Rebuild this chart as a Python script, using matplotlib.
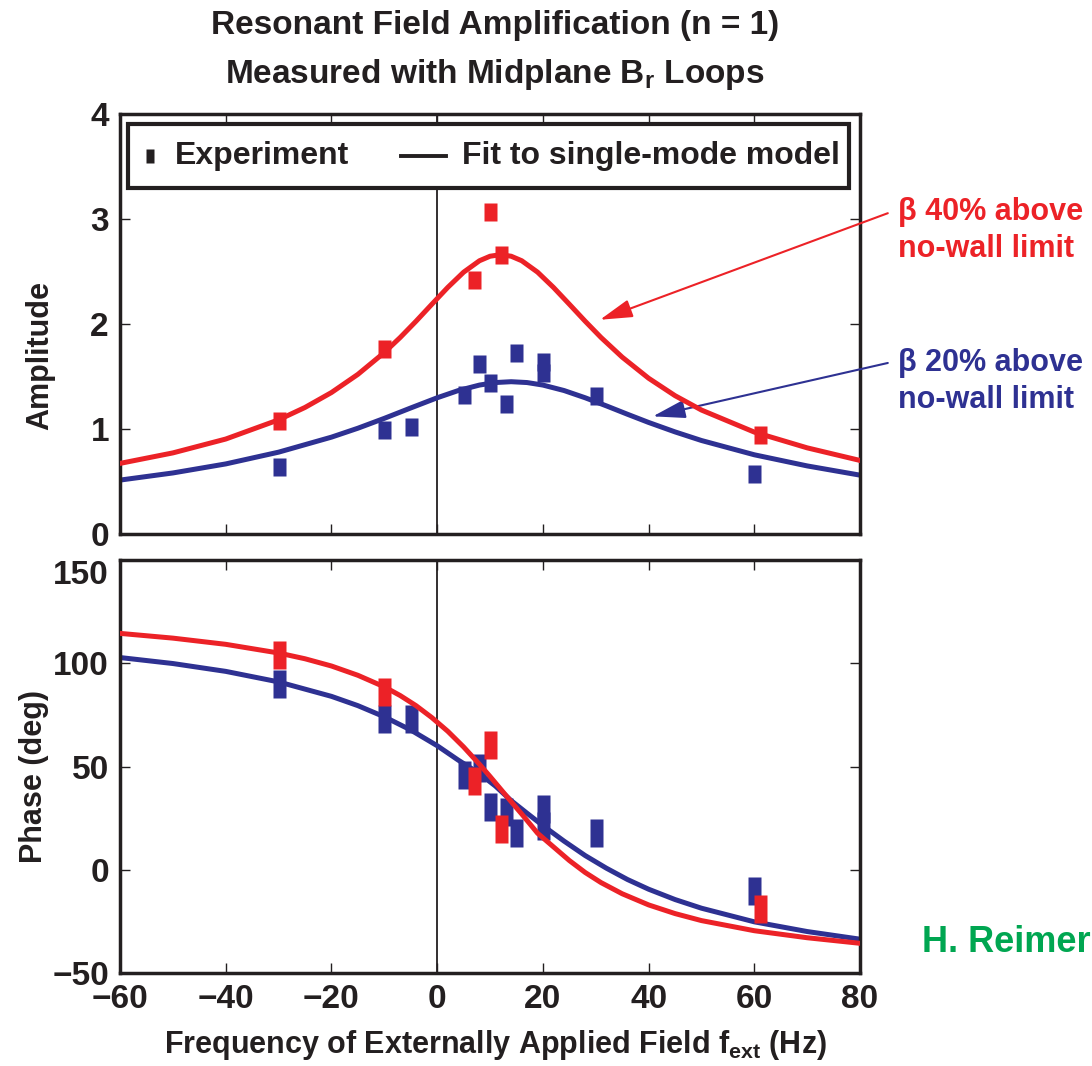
import matplotlib
matplotlib.use('Agg')
import matplotlib.pyplot as plt
from matplotlib.patches import Rectangle

plt.rcParams['font.family'] = ['Liberation Sans', 'DejaVu Sans']
plt.rcParams['font.weight'] = 'bold'
plt.rcParams['axes.labelweight'] = 'bold'
plt.rcParams['mathtext.fontset'] = 'custom'
plt.rcParams['mathtext.rm'] = 'Liberation Sans:bold'
plt.rcParams['mathtext.bf'] = 'Liberation Sans:bold'
plt.rcParams['mathtext.it'] = 'Liberation Sans:bold'

RED = '#EC2227'
BLUE = '#2E3192'
GREEN = '#00A651'
INK = '#231F20'

# measured points (Hz, amplitude / degrees)
amp_red_f = [-30, -10, 7, 10, 12, 61]
amp_red = [1.08, 1.76, 2.42, 3.07, 2.66, 0.94]
amp_blue_f = [-30, -10, -5, 5, 8, 10, 13, 15, 20, 20, 30, 60]
amp_blue = [0.64, 0.99, 1.02, 1.32, 1.62, 1.44, 1.24, 1.72, 1.64, 1.53, 1.31, 0.57]

phase_red_f = [-30, -10, 7, 10, 12, 61]
phase_red = [104, 86, 43, 60.5, 20, -19]
phase_blue_f = [-30, -10, -5, 5, 8, 10, 13, 15, 20, 20, 30, 60]
phase_blue = [90, 73, 73, 45.7, 49.3, 30.4, 28, 18, 29.3, 21, 17.7, -10.5]

# fitted curves
red_fit_f = [-60, -50, -40, -30, -25, -20, -15, -10, -7, -4, -1, 2, 5, 8, 10, 12, 14,
             16, 19, 22, 25, 28, 31, 35, 40, 45, 50, 60, 70, 80]
red_fit_amp = [0.672, 0.772, 0.904, 1.087, 1.205, 1.347, 1.520, 1.728, 1.871, 2.026,
               2.188, 2.348, 2.493, 2.602, 2.645, 2.660, 2.645, 2.602, 2.493, 2.348,
               2.188, 2.026, 1.871, 1.684, 1.483, 1.317, 1.180, 0.970, 0.820, 0.700]
red_fit_phase = [114.5, 112.2, 109.2, 105.0, 102.2, 98.7, 94.2, 88.6, 84.4, 79.5,
                 73.7, 67.1, 59.5, 51.1, 45.2, 39.1, 33.0, 27.0, 17.7, 11.1,
                 4.5, -1.3, -6.2, -11.6, -17.0, -21.2, -24.6, -29.5, -32.9, -35.6]

blue_fit_f = [-60, -50, -40, -30, -20, -15, -10, -5, 0, 4, 8, 11, 14, 17, 20, 24, 28,
              32, 36, 40, 45, 50, 60, 70, 80]
blue_fit_amp = [0.513, 0.581, 0.667, 0.779, 0.922, 1.007, 1.101, 1.200, 1.297, 1.366,
                1.418, 1.442, 1.45, 1.442, 1.418, 1.366, 1.297, 1.220, 1.140, 1.062,
                0.972, 0.890, 0.754, 0.648, 0.560]
blue_fit_phase = [102.8, 99.9, 96.1, 91.0, 84.0, 79.5, 74.1, 67.7, 60.1, 53.1,
                  46.6, 40.6, 33.5, 27.4, 21.4, 13.9, 6.9, 0.8, -4.7, -9.4,
                  -14.4, -18.6, -25.2, -29.9, -33.6]

xticks = [-60, -40, -20, 0, 20, 40, 60, 80]


def rect(w, h):
    return [(-w / 2, -h / 2), (w / 2, -h / 2), (w / 2, h / 2), (-w / 2, h / 2), (-w / 2, -h / 2)]


mk_amp = rect(13, 18)
mk_phase = rect(13, 28)

fig = plt.figure(figsize=(10.92, 10.66), dpi=100)
ax1 = fig.add_axes([0.1099, 0.4991, 0.6777, 0.394])
ax2 = fig.add_axes([0.1099, 0.0872, 0.6777, 0.3874])

ax1.plot(blue_fit_f, blue_fit_amp, color=BLUE, lw=3.6, zorder=2)
ax1.plot(amp_blue_f, amp_blue, ls='none', marker=mk_amp, ms=12.96, mfc=BLUE, mec='none', zorder=3)
ax1.plot(amp_red_f, amp_red, ls='none', marker=mk_amp, ms=12.96, mfc=RED, mec='none', zorder=4)
ax1.plot(red_fit_f, red_fit_amp, color=RED, lw=3.6, zorder=5)

ax2.plot(blue_fit_f, blue_fit_phase, color=BLUE, lw=3.6, zorder=2)
ax2.plot(phase_blue_f, phase_blue, ls='none', marker=mk_phase, ms=20.16, mfc=BLUE, mec='none', zorder=3)
ax2.plot(phase_red_f, phase_red, ls='none', marker=mk_phase, ms=20.16, mfc=RED, mec='none', zorder=4)
ax2.plot(red_fit_f, red_fit_phase, color=RED, lw=3.6, zorder=5)

for ax in (ax1, ax2):
    ax.axvline(0, color=INK, lw=1.3, zorder=1)
    ax.set_xlim(-60, 80)
    ax.set_xticks(xticks)
    ax.tick_params(direction='in', top=True, right=True, length=7, width=1.0,
                   labelsize=24, pad=8, colors=INK)
    for s in ax.spines.values():
        s.set_linewidth(2.5)
        s.set_color(INK)

ax1.set_ylim(0, 4)
ax1.set_yticks([0, 1, 2, 3, 4])
ax1.tick_params(labelbottom=False)
ax2.set_ylim(-50, 150)
ax2.set_yticks([-50, 0, 50, 100, 150])
ax2.get_yticklabels()[-1].set_va('top')

ax1.set_ylabel('Amplitude', fontsize=22, color=INK, va='center')
ax1.yaxis.set_label_coords(-0.108, 0.426)
ax2.set_ylabel('Phase (deg)', fontsize=22, color=INK, va='center')
ax2.yaxis.set_label_coords(-0.116, 0.475)
ax2.set_xlabel(r'Frequency of Externally Applied Field f$_{\mathrm{ext}}$ (Hz)',
               fontsize=22, color=INK, va='center')
ax2.xaxis.set_label_coords(0.507, -0.174)

# legend box drawn in axes fraction
ax1.add_patch(Rectangle((0.0108, 0.824), 0.974, 0.152, transform=ax1.transAxes,
                        facecolor='white', edgecolor=INK, lw=3, zorder=10))
ax1.plot([0.0405], [0.90], transform=ax1.transAxes, ls='none', marker=rect(8, 13),
         ms=9.4, mfc=INK, mec='none', zorder=11)
ax1.text(0.0743, 0.90, 'Experiment', transform=ax1.transAxes, ha='left', va='center',
         fontsize=23, color=INK, zorder=11)
ax1.plot([0.380, 0.4405], [0.90, 0.90], transform=ax1.transAxes, color=INK, lw=2.8,
         zorder=11)
ax1.text(0.462, 0.90, 'Fit to single-mode model', transform=ax1.transAxes, ha='left',
         va='center', fontsize=23, color=INK, zorder=11)

fig.text(0.453, 0.9765, 'Resonant Field Amplification (n = 1)', ha='center', va='center',
         fontsize=24, color=INK)
fig.text(0.453, 0.930, r'Measured with Midplane B$_{\mathrm{r}}$ Loops', ha='center', va='center',
         fontsize=24, color=INK)

arrow = '-|>,head_length=1.0,head_width=0.28'
ax1.annotate('', xy=(30.8, 2.04), xycoords='data', xytext=(0.813, 0.800),
             textcoords='figure fraction',
             arrowprops=dict(arrowstyle=arrow, color=RED, lw=1.5,
                             shrinkA=0, shrinkB=0, mutation_scale=20))
ax1.annotate('', xy=(40.8, 1.12), xycoords='data', xytext=(0.813, 0.6595),
             textcoords='figure fraction',
             arrowprops=dict(arrowstyle=arrow, color=BLUE, lw=1.5,
                             shrinkA=0, shrinkB=0, mutation_scale=20))
fig.text(0.822, 0.784, 'β 40% above\nno-wall limit', ha='left', va='center', fontsize=22,
         color=RED, linespacing=1.3)
fig.text(0.822, 0.642, 'β 20% above\nno-wall limit', ha='left', va='center', fontsize=22,
         color=BLUE, linespacing=1.3)
fig.text(0.9985, 0.1155, 'H. Reimer', ha='right', va='center', fontsize=26, color=GREEN)

fig.savefig('out.png', dpi=100)
